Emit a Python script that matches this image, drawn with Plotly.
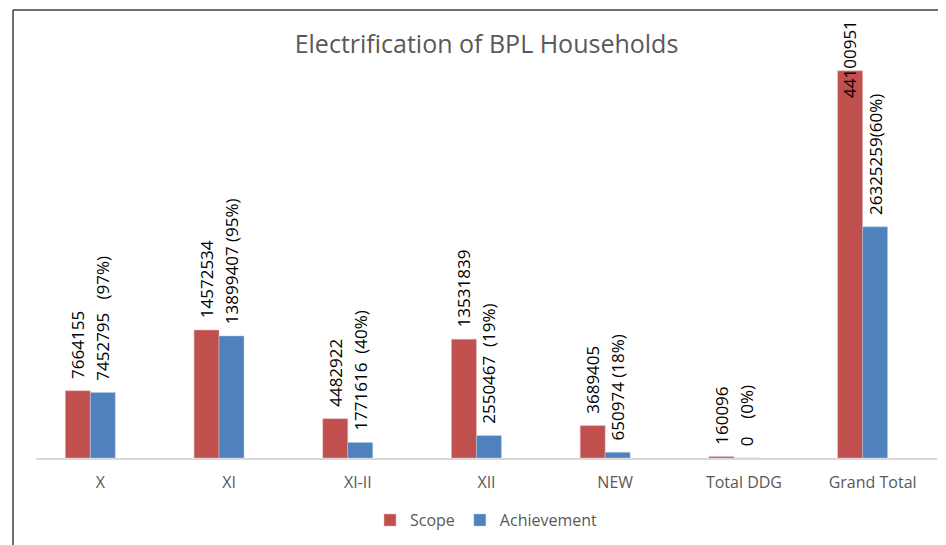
import plotly.graph_objects as go

categories = ["X", "XI", "XI-II", "XII", "NEW", "Total DDG", "Grand Total"]
scope = [7664155, 14572534, 4482922, 13531839, 3689405, 160096, 44100951]
achievement = [7452795, 13899407, 1771616, 2550467, 650974, 0, 26325259]
percent = ["97%", "95%", "40%", "19%", "18%", "0%", "60%"]
gaps = [3, 1, 2, 2, 1, 4, 0]  # spaces between value and percent in the label

RED = "#C0504D"
BLUE = "#4F81BD"
GREY = "#595959"
NB = "\u00a0"

scope_text = [NB * 2 + str(v) for v in scope]
scope_text[-1] = ""  # placed by hand below, it does not fit above the bar
ach_text = [NB * 2 + str(v) + NB * g + "(" + p + ")" for v, g, p in zip(achievement, gaps, percent)]

label_font = dict(family="Open Sans", size=17, color="black")

fig = go.Figure()
fig.add_trace(go.Bar(x=categories, y=scope, name="Scope", marker_color=RED,
                     marker_line=dict(color="#E6B9B8", width=0.5),
                     offset=-0.272, width=0.194,
                     text=scope_text, textposition="outside", textangle=-90,
                     textfont=label_font, constraintext="none",
                     cliponaxis=False))
fig.add_trace(go.Bar(x=categories, y=achievement, name="Achievement", marker_color=BLUE,
                     marker_line=dict(color="#B9CDE5", width=0.5),
                     offset=-0.078, width=0.194,
                     text=ach_text, textposition="outside", textangle=-90,
                     textfont=label_font, constraintext="none",
                     cliponaxis=False))

fig.add_annotation(x=categories[-1], y=scope[-1], xshift=-22.5, yshift=12,
                   text=str(scope[-1]), textangle=-90, showarrow=False,
                   xanchor="center", yanchor="middle", font=label_font)

# outer frame (left and top edges visible)
fig.add_shape(type="line", xref="paper", yref="paper", x0=-0.0255, x1=-0.0255, y0=-0.3, y1=1.0205,
              line=dict(color="#404040", width=1.5))
fig.add_shape(type="line", xref="paper", yref="paper", x0=-0.0255, x1=1.1, y0=1.0205, y1=1.0205,
              line=dict(color="#404040", width=1.5))

# the page body adds an 8px margin, so the figure is 8px smaller
fig.update_layout(
    width=938, height=537,
    margin=dict(l=28, r=9, t=11, b=86),
    paper_bgcolor="white", plot_bgcolor="white",
    barmode="group",
    title=dict(text="Electrification of BPL Households", x=0.5, xref="paper",
               y=1 - 36 / 537, yanchor="middle",
               font=dict(family="Open Sans", size=25, color=GREY)),
    xaxis=dict(showline=True, linecolor="#D9D9D9", linewidth=1.5, ticks="",
               tickfont=dict(family="Open Sans", size=16, color=GREY),
               ticklabelstandoff=9,
               showgrid=False, zeroline=False),
    yaxis=dict(range=[0, 50000000], visible=False, showgrid=False, zeroline=False),
    legend=dict(orientation="h", x=0.5, xanchor="center", y=-0.139, yanchor="middle",
                font=dict(family="Open Sans", size=16, color=GREY), itemwidth=30,
                traceorder="normal"),
    showlegend=True,
)

fig.write_html("out.html")
